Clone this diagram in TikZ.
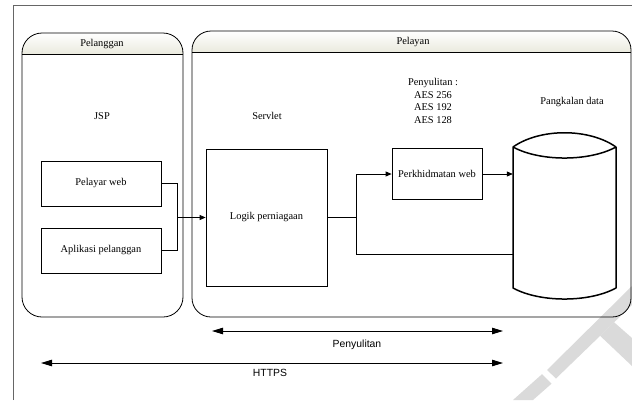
\documentclass[tikz,border=0pt]{standalone}
\usepackage{fontspec}
\setmainfont{Liberation Serif}
\newfontfamily\arialfont{Liberation Sans}
\usetikzlibrary{arrows.meta,calc}
\definecolor{hdr}{RGB}{234,234,222}
\definecolor{wm}{RGB}{218,218,218}
\newcommand\txtsize{\fontsize{10.4}{12.5}\selectfont}
\tikzset{
 box/.style={draw, line width=0.8pt, inner sep=0pt, font=\txtsize},
 lbl/.style={inner sep=0pt, font=\txtsize, align=center},
 sanslbl/.style={inner sep=0pt, font=\arialfont\txtsize},
 conn/.style={line width=0.8pt},
 container/.style={line width=0.8pt},
 smallarrow/.style={conn, -{Triangle[length=6pt,width=5pt]}},
 bigarrow/.style={line width=0.9pt, {Triangle[length=11pt,width=6.5pt]}-{Triangle[length=11pt,width=6.5pt]}},
}
\begin{document}
\begin{tikzpicture}[x=1pt,y=-1pt]
\useasboundingbox (0,0) rectangle (632,400);
% watermark
\fill[wm] (513,400) -- (533,400) -- (551.5,383.7) -- (542,374.2) -- cycle;
\fill[wm] (547,370) -- (556,378.5) -- (632,305) -- (632,286) -- cycle;
\fill[wm] (600,335.7) -- (614,322.2) -- (632,338) -- (632,366) -- cycle;
% outer frame
\draw[black!60, line width=0.8pt] (13,400) -- (13,5) -- (632,5);
% Pelanggan container
\begin{scope}
\clip[rounded corners=20] (22,33) rectangle (183,317);
\shade[top color=white,bottom color=hdr] (22,33) rectangle (183,54);
\end{scope}
\draw[container, rounded corners=20] (22,33) rectangle (183,317);
\draw[container] (22,54) -- (183,54);
\node[lbl] (tpel) at (102,44) {Pelanggan};
% Pelayan container
\begin{scope}
\clip[rounded corners=19] (192,31) rectangle (631,317);
\shade[top color=white,bottom color=hdr] (192,31) rectangle (631,52);
\end{scope}
\draw[container, rounded corners=19] (192,31) rectangle (631,317);
\draw[container] (192,52) -- (631,52);
\node[lbl] (tpy) at (413,42) {Pelayan};
% labels
\node[lbl] (jsp) at (102,116) {JSP};
\node[lbl] (servlet) at (267,116) {Servlet};
\node[lbl] (enc) at (433,101) {Penyulitan :\\AES 256\\AES 192\\AES 128};
\node[lbl] (pd) at (572,102) {Pangkalan data};
% boxes
\node[box, minimum width=120pt, minimum height=45pt] (pw) at (101,183.5) {Pelayar web};
\node[box, minimum width=120pt, minimum height=45pt] (ap) at (101,250.5) {Aplikasi pelanggan};
\node[box, minimum width=121pt, minimum height=137pt] (lg) at (266.5,217.5) {Logik perniagaan};
\node[box, minimum width=90pt, minimum height=51pt] (pk) at (437,174) {Perkhidmatan web};
% database
\node[minimum width=103pt, minimum height=141pt, inner sep=0pt] (db) at (564.5,217.5) {};
\draw[line width=1.5pt, line join=round] (513,147) .. controls (540,128) and (589,128) .. (616,147)
  .. controls (589,161.7) and (540,161.7) .. (513,147) -- (513,288)
  .. controls (540,302.7) and (589,302.7) .. (616,288) -- (616,147);
% connectors
\coordinate (j) at (177,217.5);
\draw[conn] (pw.east) -| (j);
\draw[conn] (ap.east) -| (j);
\draw[smallarrow] (j) -- (lg.west);
\coordinate (s) at (356,217.5);
\coordinate (s2) at (356,254);
\draw[conn] (lg.east) -- (s);
\draw[smallarrow] (s) |- (pk.west);
\draw[conn] (s) -- (s2) -- (s2 -| db.west);
\draw[smallarrow] (pk.east) -- (pk.east -| db.west);
% bottom arrows
\coordinate (p1) at (212,331);
\coordinate (p2) at (503,331);
\draw[bigarrow] (p1) -- (p2);
\node[sanslbl] (plab) at (357,345) {Penyulitan};
\coordinate (h1) at (41,363);
\coordinate (h2) at (503,363);
\draw[bigarrow] (h1) -- (h2);
\node[sanslbl] (hlab) at (270,373) {HTTPS};
\end{tikzpicture}
\end{document}
